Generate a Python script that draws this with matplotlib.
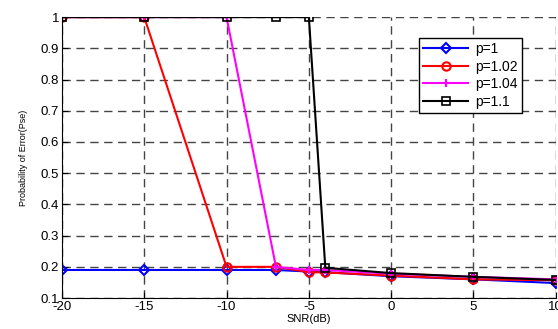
import matplotlib
matplotlib.use('Agg')
import matplotlib.pyplot as plt

plt.rcParams['font.family'] = ['Liberation Sans', 'DejaVu Sans']
plt.rcParams['axes.unicode_minus'] = False

snr = [-20, -15, -10, -7, -5, -4, 0, 5, 10]
p1 = [0.19, 0.19, 0.19, 0.19, 0.185, 0.183, 0.17, 0.16, 0.148]
p102 = [1, 1, 0.2, 0.2, 0.183, 0.182, 0.172, 0.16, 0.157]
p104 = [1, 1, 1, 0.2, 0.19, 0.19, 0.178, 0.168, 0.16]
p11 = [1, 1, 1, 1, 1, 0.197, 0.18, 0.168, 0.158]
labels = ['p=1', 'p=1.02', 'p=1.04', 'p=1.1']

fig = plt.figure(figsize=(5.58, 3.29), dpi=100)
ax = fig.add_axes([0.111, 0.094, 0.885, 0.854])

ax.plot(snr, p1, color='blue', marker='D', mfc='none', ms=5, mew=1.5, lw=1.5, label=labels[0])
ax.plot(snr, p102, color='red', marker='o', mfc='none', ms=6, mew=1.5, lw=1.5, label=labels[1])
ax.plot(snr, p104, color='magenta', marker='+', ms=6, mew=1.5, lw=1.5, label=labels[2])
ax.plot(snr, p11, color='black', marker='s', mfc='none', ms=6, mew=1.2, lw=1.5, label=labels[3])

ax.set_xlim(-20, 10)
ax.set_ylim(0.1, 1)
ax.set_xticks([-20, -15, -10, -5, 0, 5, 10])
ax.set_yticks([0.1, 0.2, 0.3, 0.4, 0.5, 0.6, 0.7, 0.8, 0.9, 1])
ax.set_yticklabels(['0.1', '0.2', '0.3', '0.4', '0.5', '0.6', '0.7', '0.8', '0.9', '1'])
ax.grid(True, color='#444444', linestyle=(0, (6, 4)), lw=1)
ax.tick_params(direction='in', labelsize=9.5, length=4, pad=2)
ax.spines['top'].set_visible(False)
ax.spines['right'].set_visible(False)
ax.set_xlabel('SNR(dB)', fontsize=8, labelpad=1)
ax.set_ylabel('Probability of Error(Pse)', fontsize=6.5, labelpad=9)

leg = ax.legend(loc='upper right', bbox_to_anchor=(0.945, 0.95), fontsize=10,
                fancybox=False, edgecolor='black', framealpha=1,
                handlelength=3.2, borderpad=0.3, labelspacing=0.25, handletextpad=0.5)
leg.get_frame().set_linewidth(1)

fig.savefig('out.png', dpi=100)
